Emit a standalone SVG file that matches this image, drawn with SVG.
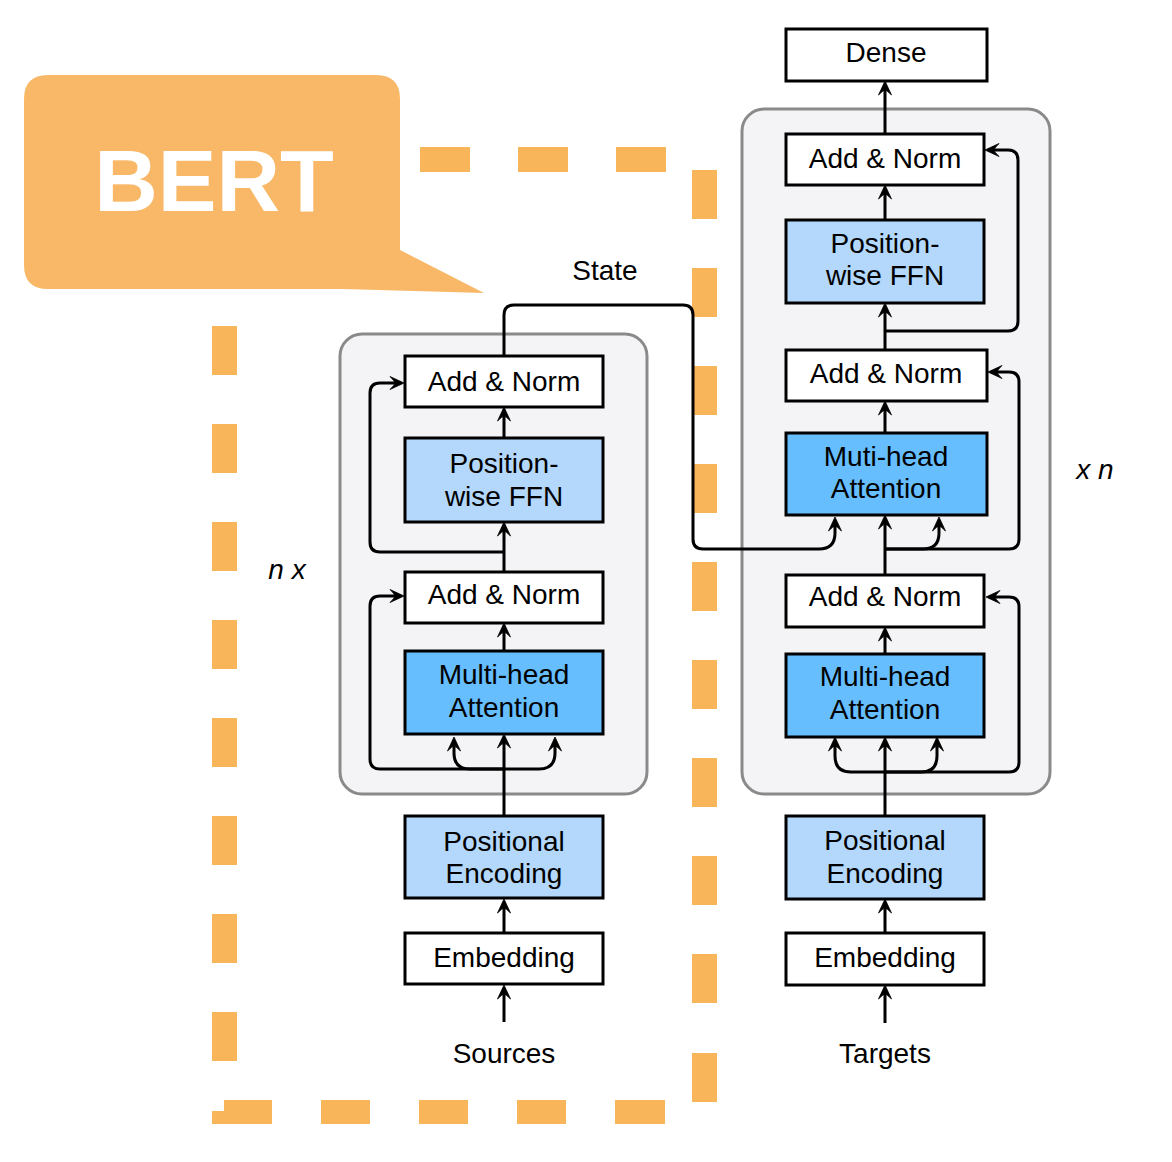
<svg xmlns="http://www.w3.org/2000/svg" width="1172" height="1162" viewBox="0 0 1172 1162">
<style>
.box{stroke:#000;stroke-width:3}
.w{fill:#fff}
.lb{fill:#B3D8FC}
.db{fill:#66BEFF}
.grp{fill:#F4F4F6;stroke:#8A8A8A;stroke-width:3}
.t{font-family:"Liberation Sans",Arial,Helvetica,sans-serif;font-size:28px;fill:#000;text-anchor:middle}
.it{font-style:italic}
.c{fill:none;stroke:#000;stroke-width:3}
.a{marker-end:url(#arr)}
.dash{fill:#F9B55A}
</style>
<defs>
<marker id="arr" markerUnits="userSpaceOnUse" viewBox="-14 -8 18 16" refX="0" refY="0" markerWidth="18" markerHeight="16" orient="auto">
<path d="M3,0 L-11,-6.5 Q-6.5,-2 -6,0 Q-6.5,2 -11,6.5 Z" fill="#000" stroke="#000" stroke-width="0.8" stroke-linejoin="round"/>
</marker>
</defs>
<rect width="1172" height="1162" fill="#fff"/>

<g id="bert-dashed-outline">
<rect class="dash" x="212" y="326" width="25" height="49"/>
<rect class="dash" x="212" y="424" width="25" height="49"/>
<rect class="dash" x="212" y="522" width="25" height="49"/>
<rect class="dash" x="212" y="620" width="25" height="49"/>
<rect class="dash" x="212" y="718" width="25" height="49"/>
<rect class="dash" x="212" y="816" width="25" height="49"/>
<rect class="dash" x="212" y="914" width="25" height="49"/>
<rect class="dash" x="212" y="1012" width="25" height="49"/>
<rect class="dash" x="212" y="1111" width="14" height="13"/>
<rect class="dash" x="224" y="1100" width="48" height="24"/>
<rect class="dash" x="321" y="1100" width="49" height="24"/>
<rect class="dash" x="419" y="1100" width="49" height="24"/>
<rect class="dash" x="517" y="1100" width="49" height="24"/>
<rect class="dash" x="615" y="1100" width="50" height="24"/>
<rect class="dash" x="420" y="147" width="50" height="25"/>
<rect class="dash" x="518" y="147" width="50" height="25"/>
<rect class="dash" x="616" y="147" width="50" height="25"/>
<rect class="dash" x="692" y="170" width="25" height="49"/>
<rect class="dash" x="692" y="268" width="25" height="49"/>
<rect class="dash" x="692" y="366" width="25" height="49"/>
<rect class="dash" x="692" y="464" width="25" height="49"/>
<rect class="dash" x="692" y="562" width="25" height="49"/>
<rect class="dash" x="692" y="660" width="25" height="49"/>
<rect class="dash" x="692" y="758" width="25" height="49"/>
<rect class="dash" x="692" y="856" width="25" height="49"/>
<rect class="dash" x="692" y="954" width="25" height="49"/>
<rect class="dash" x="692" y="1053" width="25" height="49"/>
</g>

<g id="bert-callout">
<path d="M48,75 L376,75 Q400,75 400,99 L400,250 L484,293 L343,289 L48,289 Q24,289 24,265 L24,99 Q24,75 48,75 Z" fill="#F8B867"/>
<text x="214" y="211" style="font-family:'Liberation Sans',Arial,sans-serif;font-weight:bold;font-size:88px;fill:#fff;text-anchor:middle">BERT</text>
</g>

<g id="encoder-block">
<rect class="grp" x="340" y="334" width="307" height="460" rx="22"/>
</g>
<g id="decoder-block">
<rect class="grp" x="742" y="109" width="308" height="685" rx="22"/>
</g>

<g id="connectors">
<path class="c a" d="M504,1022 L504,988"/>
<path class="c a" d="M504,933 L504,902"/>
<path class="c a" d="M504,816 L504,737"/>
<path class="c a" d="M504,769 L380,769 Q370,769 370,759 L370,606 Q370,596 380,596 L401,596"/>
<path class="c a" d="M504,769 L470,769 Q454,769 454,753 L454,740"/>
<path class="c a" d="M504,769 L539,769 Q555,769 555,753 L555,740"/>
<path class="c a" d="M504,651 L504,626"/>
<path class="c a" d="M504,572 L504,525"/>
<path class="c a" d="M504,552 L380,552 Q370,552 370,542 L370,393 Q370,383 380,383 L401,383"/>
<path class="c a" d="M504,438 L504,410"/>
<path class="c a" d="M504,356 L504,315 Q504,305 514,305 L683,305 Q693,305 693,315 L693,539 Q693,549 703,549 L819,549 Q835,549 835,533 L835,520"/>

<path class="c a" d="M885,1023 L885,988"/>
<path class="c a" d="M885,933 L885,902"/>
<path class="c a" d="M885,816 L885,740"/>
<path class="c a" d="M885,772 L1009,772 Q1019,772 1019,762 L1019,607 Q1019,597 1009,597 L989,597"/>
<path class="c a" d="M885,772 L851,772 Q835,772 835,756 L835,740"/>
<path class="c a" d="M885,772 L921,772 Q937,772 937,756 L937,740"/>
<path class="c a" d="M885,654 L885,630"/>
<path class="c a" d="M885,575 L885,518"/>
<path class="c a" d="M885,549 L1009,549 Q1019,549 1019,539 L1019,382 Q1019,372 1009,372 L991,372"/>
<path class="c a" d="M885,549 L923,549 Q939,549 939,533 L939,520"/>
<path class="c a" d="M885,433 L885,404"/>
<path class="c a" d="M885,350 L885,306"/>
<path class="c a" d="M885,331 L1008,331 Q1018,331 1018,321 L1018,160 Q1018,150 1008,150 L988,150"/>
<path class="c a" d="M885,220 L885,188"/>
<path class="c a" d="M885,134 L885,84"/>
</g>

<g id="enc-add-norm-2">
<rect class="box w" x="405" y="356" width="198" height="51"/>
<text class="t" x="504" y="391">Add &amp; Norm</text>
</g>
<g id="enc-ffn">
<rect class="box lb" x="405" y="438" width="198" height="84"/>
<text class="t" x="504" y="473">Position-</text>
<text class="t" x="504" y="506">wise FFN</text>
</g>
<g id="enc-add-norm-1">
<rect class="box w" x="405" y="572" width="198" height="51"/>
<text class="t" x="504" y="604">Add &amp; Norm</text>
</g>
<g id="enc-mha">
<rect class="box db" x="405" y="651" width="198" height="83"/>
<text class="t" x="504" y="684">Multi-head</text>
<text class="t" x="504" y="717">Attention</text>
</g>
<g id="enc-pos-enc">
<rect class="box lb" x="405" y="816" width="198" height="82"/>
<text class="t" x="504" y="851">Positional</text>
<text class="t" x="504" y="883">Encoding</text>
</g>
<g id="enc-embedding">
<rect class="box w" x="405" y="933" width="198" height="51"/>
<text class="t" x="504" y="967">Embedding</text>
</g>
<g id="sources-label">
<text class="t" x="504" y="1063">Sources</text>
</g>
<g id="state-label">
<text class="t" x="605" y="280">State</text>
</g>
<g id="nx-label">
<text class="t it" x="287" y="579">n x</text>
</g>

<g id="dec-dense">
<rect class="box w" x="786" y="29" width="201" height="52"/>
<text class="t" x="886" y="62">Dense</text>
</g>
<g id="dec-add-norm-3">
<rect class="box w" x="786" y="134" width="198" height="51"/>
<text class="t" x="885" y="168">Add &amp; Norm</text>
</g>
<g id="dec-ffn">
<rect class="box lb" x="786" y="220" width="198" height="83"/>
<text class="t" x="885" y="253">Position-</text>
<text class="t" x="885" y="285">wise FFN</text>
</g>
<g id="dec-add-norm-2">
<rect class="box w" x="786" y="350" width="201" height="51"/>
<text class="t" x="886" y="383">Add &amp; Norm</text>
</g>
<g id="dec-cross-attention">
<rect class="box db" x="786" y="433" width="201" height="82"/>
<text class="t" x="886" y="466">Muti-head</text>
<text class="t" x="886" y="498">Attention</text>
</g>
<g id="dec-add-norm-1">
<rect class="box w" x="786" y="575" width="198" height="52"/>
<text class="t" x="885" y="606">Add &amp; Norm</text>
</g>
<g id="dec-self-attention">
<rect class="box db" x="786" y="654" width="198" height="83"/>
<text class="t" x="885" y="686">Multi-head</text>
<text class="t" x="885" y="719">Attention</text>
</g>
<g id="dec-pos-enc">
<rect class="box lb" x="786" y="816" width="198" height="83"/>
<text class="t" x="885" y="850">Positional</text>
<text class="t" x="885" y="883">Encoding</text>
</g>
<g id="dec-embedding">
<rect class="box w" x="786" y="933" width="198" height="52"/>
<text class="t" x="885" y="967">Embedding</text>
</g>
<g id="targets-label">
<text class="t" x="885" y="1063">Targets</text>
</g>
<g id="xn-label">
<text class="t it" x="1095" y="479">x n</text>
</g>
</svg>
